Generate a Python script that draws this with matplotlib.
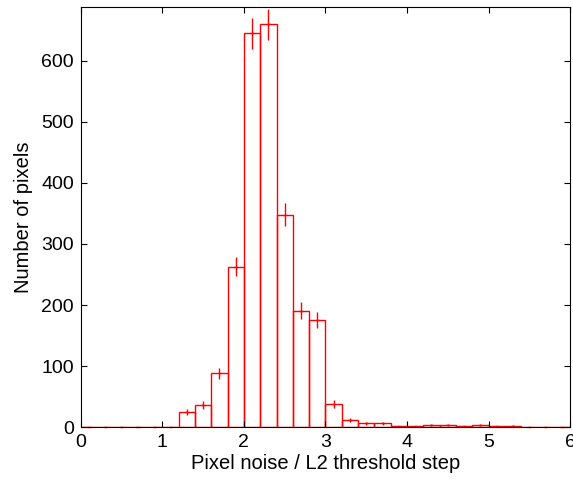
import numpy as np
import matplotlib.pyplot as plt

plt.rcParams['font.family'] = ['Liberation Sans', 'DejaVu Sans']

# bin edges 0..6 in steps of 0.2
bin_lo = np.arange(0, 6.0, 0.2)
counts = [0, 0, 0, 0, 0, 0, 25, 36, 88, 263,
          645, 660, 348, 191, 176, 38, 12, 6, 6, 1,
          1, 3, 3, 1, 3, 1, 2, 0, 0, 0]
counts = np.array(counts, dtype=float)
width = 0.2
centres = bin_lo + width / 2
errs = np.sqrt(counts)

fig = plt.figure(figsize=(5.73, 4.82), dpi=100)
ax = fig.add_axes([0.141, 0.114, 0.854, 0.871])

ax.bar(bin_lo, counts, width=width, align='edge', fill=False,
       edgecolor='red', linewidth=1.0)
ax.errorbar(centres, counts, yerr=errs, xerr=0.02, fmt='none',
            ecolor='red', elinewidth=1.0, capsize=0, clip_on=False)

ax.set_xlim(0, 6)
ax.set_ylim(0, 688)
ax.set_xticks(range(0, 7))
ax.set_yticks(range(0, 700, 100))
ax.tick_params(direction='in', top=True, right=True, labelsize=14, length=4, pad=5)
ax.set_xlabel('Pixel noise / L2 threshold step', fontsize=14.5, labelpad=2)
ax.set_ylabel('Number of pixels', fontsize=14.5, labelpad=6)

fig.savefig('out.png', dpi=100)
